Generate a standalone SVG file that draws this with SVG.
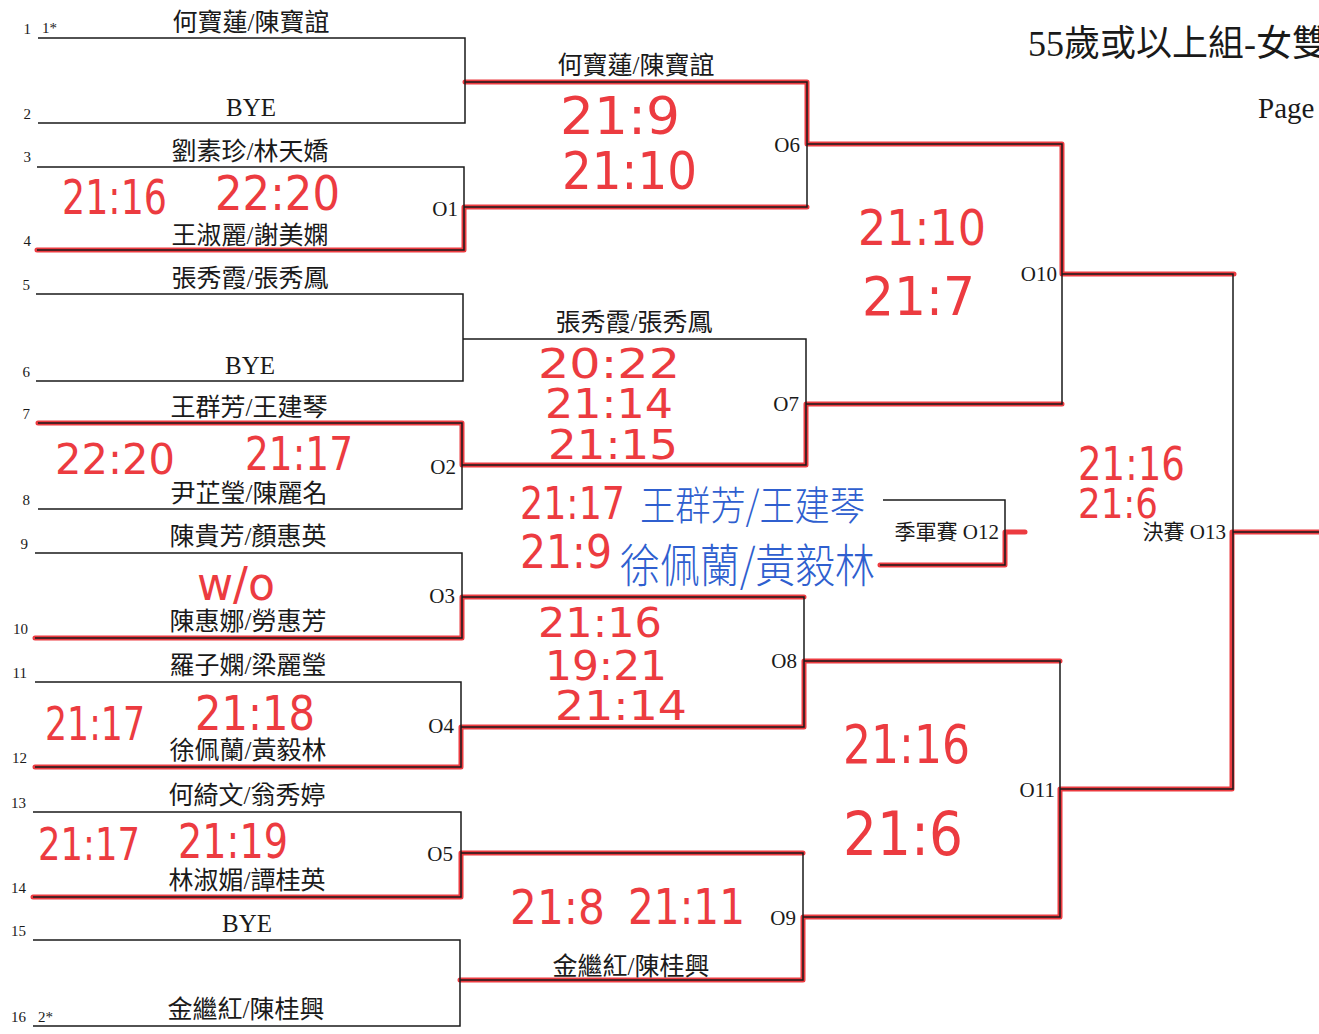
<svg xmlns="http://www.w3.org/2000/svg" width="1319" height="1034" viewBox="0 0 1319 1034">
<style>
.ln{stroke:#1a1a1a;stroke-width:1.5;fill:none}
.rd{stroke:#ec3b40;stroke-width:5;fill:none;stroke-linecap:round;stroke-linejoin:round}
.nm{font-family:"Liberation Serif","Noto Sans CJK TC",serif;font-size:25px;fill:#1a1a1a;text-anchor:middle}
.no{font-family:"Liberation Serif",serif;font-size:15px;fill:#1a1a1a}
.nr{text-anchor:end}
.mt{font-family:"Liberation Serif","Noto Sans CJK TC",serif;font-size:21px;fill:#1a1a1a;text-anchor:end}
.hw{font-family:"DejaVu Sans",sans-serif;fill:#ec3b40}
.bl{font-family:"Noto Sans CJK TC",sans-serif;font-weight:300;fill:#2f5fcf}
.tt{font-family:"Liberation Serif","Noto Sans CJK TC",serif;fill:#1a1a1a}
</style>
<rect width="1319" height="1034" fill="#ffffff"/>

<g id="title">
<text class="tt" x="1028" y="56" font-size="36">55歲或以上組-女雙</text>
<text class="tt" x="1258" y="118" font-size="29">Page</text>
</g>

<g id="connectors">
<g id="winner-marks">
<path class="rd" d="M465,82 H807 V144 H1062 V274 H1234"/>
<path class="rd" d="M37,250 H464 V207 H807"/>
<path class="rd" d="M38,423 H462 V465 H806 V404 H1062"/>
<path class="rd" d="M35,638 H462 V597 H804"/>
<path class="rd" d="M35,767 H461 V727 H804 V661 H1060"/>
<path class="rd" d="M33,897 H461 V853 H803"/>
<path class="rd" d="M460,980 H803 V917 H1060 V789 H1232 V532 H1319"/>
<path class="rd" d="M880,565 H1005 V532 H1025"/>
</g>
<g id="bracket-lines">
<path class="ln" d="M38,38 H465 V123 H38"/>
<path class="ln" d="M37,167 H464 V250 H37"/>
<path class="ln" d="M36,294 H463 V381 H36"/>
<path class="ln" d="M38,423 H462 V509 H38"/>
<path class="ln" d="M35,553 H462 V638 H35"/>
<path class="ln" d="M35,682 H461 V767 H35"/>
<path class="ln" d="M33,812 H461 V897 H33"/>
<path class="ln" d="M33,940 H460 V1026 H33"/>
<path class="ln" d="M465,82 H807 V207 H464"/>
<path class="ln" d="M463,339 H806 V465 H462"/>
<path class="ln" d="M462,597 H804 V727 H461"/>
<path class="ln" d="M461,853 H803 V980 H460"/>
<path class="ln" d="M807,144 H1062 V404 H806"/>
<path class="ln" d="M804,661 H1060 V917 H803"/>
<path class="ln" d="M1062,274 H1233 V789 H1060"/>
<path class="ln" d="M1233,532 H1319"/>
<path class="ln" d="M883,500 H1005 V565 H880"/>
</g>
</g>

<g id="entries">
<g id="e1"><text class="no nr" x="31" y="34">1</text><text class="no" x="42" y="33">1*</text><text class="nm" x="251" y="31">何寶蓮/陳寶誼</text></g>
<g id="e2"><text class="no nr" x="31" y="119">2</text><text class="nm" x="251" y="116">BYE</text></g>
<g id="e3"><text class="no nr" x="31" y="162">3</text><text class="nm" x="250" y="160">劉素珍/林天嬌</text></g>
<g id="e4"><text class="no nr" x="31" y="246">4</text><text class="nm" x="250" y="244">王淑麗/謝美嫻</text></g>
<g id="e5"><text class="no nr" x="30" y="290">5</text><text class="nm" x="250" y="287">張秀霞/張秀鳳</text></g>
<g id="e6"><text class="no nr" x="30" y="377">6</text><text class="nm" x="250" y="374">BYE</text></g>
<g id="e7"><text class="no nr" x="30" y="419">7</text><text class="nm" x="249" y="416">王群芳/王建琴</text></g>
<g id="e8"><text class="no nr" x="30" y="505">8</text><text class="nm" x="249" y="502">尹芷瑩/陳麗名</text></g>
<g id="e9"><text class="no nr" x="28" y="549">9</text><text class="nm" x="248" y="545">陳貴芳/顏惠英</text></g>
<g id="e10"><text class="no nr" x="28" y="634">10</text><text class="nm" x="248" y="630">陳惠娜/勞惠芳</text></g>
<g id="e11"><text class="no nr" x="27" y="678">11</text><text class="nm" x="248" y="674">羅子嫻/梁麗瑩</text></g>
<g id="e12"><text class="no nr" x="27" y="763">12</text><text class="nm" x="248" y="759">徐佩蘭/黃毅林</text></g>
<g id="e13"><text class="no nr" x="26" y="808">13</text><text class="nm" x="247" y="804">何綺文/翁秀婷</text></g>
<g id="e14"><text class="no nr" x="26" y="893">14</text><text class="nm" x="247" y="889">林淑媚/譚桂英</text></g>
<g id="e15"><text class="no nr" x="26" y="936">15</text><text class="nm" x="247" y="932">BYE</text></g>
<g id="e16"><text class="no nr" x="26" y="1022">16</text><text class="no" x="38" y="1022">2*</text><text class="nm" x="246" y="1018">金繼紅/陳桂興</text></g>
</g>

<g id="round2-names">
<g id="w1"><text class="nm" x="636" y="74">何寶蓮/陳寶誼</text></g>
<g id="w3"><text class="nm" x="634" y="331">張秀霞/張秀鳳</text></g>
<g id="w8"><text class="nm" x="631" y="975">金繼紅/陳桂興</text></g>
</g>

<g id="matches">
<g id="O1"><text class="mt" x="458" y="216">O1</text></g>
<g id="O2"><text class="mt" x="456" y="474">O2</text></g>
<g id="O3"><text class="mt" x="455" y="603">O3</text></g>
<g id="O4"><text class="mt" x="454" y="733">O4</text></g>
<g id="O5"><text class="mt" x="453" y="861">O5</text></g>
<g id="O6"><text class="mt" x="800" y="152">O6</text></g>
<g id="O7"><text class="mt" x="799" y="411">O7</text></g>
<g id="O8"><text class="mt" x="797" y="668">O8</text></g>
<g id="O9"><text class="mt" x="796" y="925">O9</text></g>
<g id="O10"><text class="mt" x="1057" y="281">O10</text></g>
<g id="O11"><text class="mt" x="1055" y="797">O11</text></g>
<g id="O12"><text class="mt" x="999" y="539" font-size="19">季軍賽 O12</text></g>
<g id="O13"><text class="mt" x="1226" y="539" font-size="19">決賽 O13</text></g>
</g>

<g id="scores">
<text class="hw" x="62" y="214" font-size="48" textLength="105" lengthAdjust="spacingAndGlyphs">21:16</text>
<text class="hw" x="215" y="210" font-size="48" textLength="125" lengthAdjust="spacingAndGlyphs">22:20</text>
<text class="hw" x="55" y="474" font-size="42" textLength="120" lengthAdjust="spacingAndGlyphs">22:20</text>
<text class="hw" x="245" y="470" font-size="46" textLength="108" lengthAdjust="spacingAndGlyphs">21:17</text>
<text class="hw" x="197" y="600" font-size="46" textLength="78" lengthAdjust="spacingAndGlyphs">w/o</text>
<text class="hw" x="45" y="740" font-size="46" textLength="100" lengthAdjust="spacingAndGlyphs">21:17</text>
<text class="hw" x="195" y="730" font-size="48" textLength="120" lengthAdjust="spacingAndGlyphs">21:18</text>
<text class="hw" x="38" y="860" font-size="44" textLength="102" lengthAdjust="spacingAndGlyphs">21:17</text>
<text class="hw" x="178" y="858" font-size="48" textLength="110" lengthAdjust="spacingAndGlyphs">21:19</text>
<text class="hw" x="560" y="134" font-size="52" textLength="120" lengthAdjust="spacingAndGlyphs">21:9</text>
<text class="hw" x="562" y="189" font-size="52" textLength="135" lengthAdjust="spacingAndGlyphs">21:10</text>
<text class="hw" x="538" y="378" font-size="40" textLength="142" lengthAdjust="spacingAndGlyphs">20:22</text>
<text class="hw" x="545" y="418" font-size="40" textLength="128" lengthAdjust="spacingAndGlyphs">21:14</text>
<text class="hw" x="548" y="459" font-size="40" textLength="130" lengthAdjust="spacingAndGlyphs">21:15</text>
<text class="hw" x="520" y="519" font-size="44" textLength="105" lengthAdjust="spacingAndGlyphs">21:17</text>
<text class="hw" x="520" y="568" font-size="46" textLength="92" lengthAdjust="spacingAndGlyphs">21:9</text>
<text class="hw" x="538" y="637" font-size="40" textLength="124" lengthAdjust="spacingAndGlyphs">21:16</text>
<text class="hw" x="545" y="680" font-size="40" textLength="122" lengthAdjust="spacingAndGlyphs">19:21</text>
<text class="hw" x="555" y="720" font-size="40" textLength="132" lengthAdjust="spacingAndGlyphs">21:14</text>
<text class="hw" x="510" y="924" font-size="48" textLength="95" lengthAdjust="spacingAndGlyphs">21:8</text>
<text class="hw" x="628" y="924" font-size="50" textLength="117" lengthAdjust="spacingAndGlyphs">21:11</text>
<text class="hw" x="858" y="245" font-size="50" textLength="128" lengthAdjust="spacingAndGlyphs">21:10</text>
<text class="hw" x="862" y="315" font-size="54" textLength="113" lengthAdjust="spacingAndGlyphs">21:7</text>
<text class="hw" x="843" y="763" font-size="54" textLength="127" lengthAdjust="spacingAndGlyphs">21:16</text>
<text class="hw" x="843" y="855" font-size="60" textLength="120" lengthAdjust="spacingAndGlyphs">21:6</text>
<text class="hw" x="1078" y="480" font-size="46" textLength="107" lengthAdjust="spacingAndGlyphs">21:16</text>
<text class="hw" x="1078" y="518" font-size="40" textLength="80" lengthAdjust="spacingAndGlyphs">21:6</text>
<text class="bl" x="640" y="520" font-size="40" textLength="225" lengthAdjust="spacingAndGlyphs">王群芳/王建琴</text>
<text class="bl" x="620" y="582" font-size="46" textLength="255" lengthAdjust="spacingAndGlyphs">徐佩蘭/黃毅林</text>
</g>
</svg>
